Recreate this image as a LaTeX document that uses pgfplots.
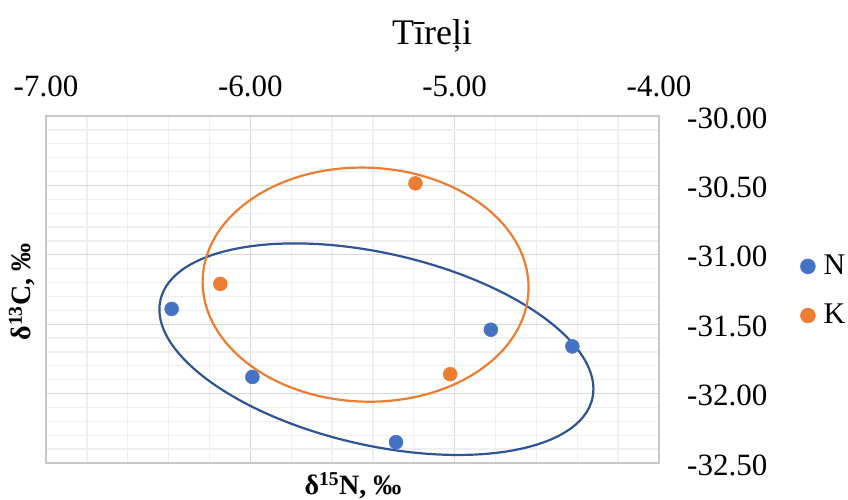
\documentclass[border=0pt]{standalone}
\usepackage{pgfplots}
\pgfplotsset{compat=1.18}
\usepackage{fontspec}
\setmainfont{Liberation Serif}
\definecolor{nblue}{HTML}{4472C4}
\definecolor{korange}{HTML}{ED7D31}
\definecolor{eblue}{HTML}{2F5597}
\definecolor{majgrid}{HTML}{D9D9D9}
\definecolor{mingrid}{HTML}{EFEFEF}
\definecolor{border}{HTML}{C8C8C8}
\begin{document}
\begin{tikzpicture}
\useasboundingbox (0,0) rectangle (848pt,500pt);
\begin{axis}[
  at={(46pt,37pt)}, anchor=south west,
  width=613pt, height=347pt, scale only axis,
  xmin=-7, xmax=-4, ymin=-32.5, ymax=-30,
  xtick={-7,-6,-5,-4}, xticklabels={-7.00,-6.00,-5.00,-4.00},
  ytick={-32.5,-32,-31.5,-31,-30.5,-30},
  yticklabels={-32.50,-32.00,-31.50,-31.00,-30.50,-30.00},
  minor x tick num=4, minor y tick num=4,
  grid=both,
  major grid style={draw=majgrid, line width=1.3pt},
  minor grid style={draw=mingrid, line width=1.3pt},
  axis line style={draw=border, line width=1.3pt},
  major tick length=0pt, minor tick length=0pt,
  xticklabel pos=upper, yticklabel pos=right,
  xticklabel style={font=\fontsize{31}{36}\selectfont, anchor=base, inner sep=0pt, yshift=19pt},
  yticklabel style={font=\fontsize{31}{36}\selectfont, anchor=west, inner sep=0pt, xshift=28pt, yshift=-2pt},
  legend style={at={(1.230,0.4986)}, anchor=west, draw=none, fill=none,
    font=\fontsize{30}{36}\selectfont, row sep=28pt, inner sep=0pt,
    nodes={inner sep=0pt}},
  legend image code/.code={\fill (7.5pt,-1pt) circle (7.5pt);},
  /tikz/every odd column/.append style={column sep=8pt},
  legend cell align=left,
]
\draw[eblue, line width=2.2pt] (axis cs:-5.383,-31.680) ellipse [x radius=221.5pt, y radius=96pt, rotate=-12.85];
\draw[korange, line width=2.2pt] (axis cs:-5.436,-31.215) ellipse [x radius=163pt, y radius=117pt, rotate=-2];
\addplot[only marks, mark=*, mark size=7pt, color=nblue, mark options={draw=nblue, fill=nblue}]
  coordinates {(-6.385,-31.39) (-5.99,-31.88) (-5.287,-32.35) (-4.823,-31.54) (-4.424,-31.66)};
\addlegendentry{N}
\addplot[only marks, mark=*, mark size=7pt, color=korange, mark options={draw=korange, fill=korange}]
  coordinates {(-6.147,-31.21) (-5.192,-30.485) (-5.022,-31.86)};
\addlegendentry{K}
\end{axis}
\node[font=\bfseries\fontsize{28}{32}\selectfont, inner sep=0pt] at (353pt,14pt) {δ\textsuperscript{15}N, ‰};
\node[font=\bfseries\fontsize{28}{32}\selectfont, inner sep=0pt, rotate=90] at (22pt,208pt) {δ\textsuperscript{13}C, ‰};
\node[font=\fontsize{36}{40}\selectfont, anchor=base, inner sep=0pt] at (432pt,455pt) {Tīreļi};
\end{tikzpicture}
\end{document}
